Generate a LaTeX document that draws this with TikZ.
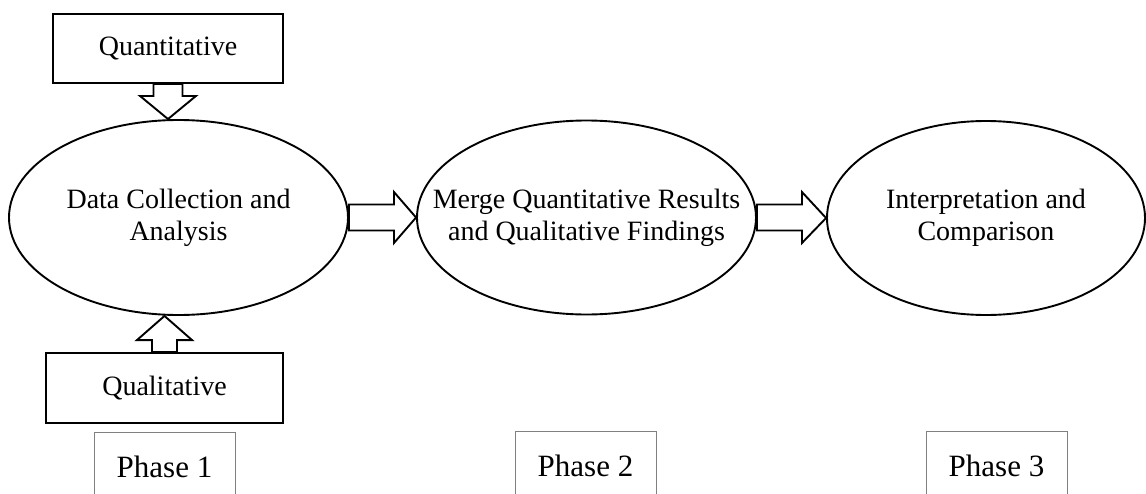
\documentclass[tikz,border=0pt]{standalone}
\usepackage{fontspec}
\setmainfont{Liberation Serif}
\usetikzlibrary{shapes.geometric,calc}
\tikzset{
  oval/.style={ellipse,draw=black,line width=1.9pt,inner sep=0pt},
  ovaltext/.style={align=center,inner sep=0pt,font=\fontsize{28}{32}\selectfont},
  inbox/.style={rectangle,draw=black,line width=1.9pt,inner sep=0pt,align=center,
    font=\fontsize{28}{32}\selectfont},
  phasebox/.style={rectangle,draw=black!50,line width=1pt,inner sep=0pt,anchor=north,
    minimum width=141pt,minimum height=69pt,text height=21pt,text depth=0pt,
    font=\fontsize{31}{34}\selectfont},
  barrow/.style={draw=black,fill=white,line width=1.9pt,line join=miter}
}
\begin{document}
\begin{tikzpicture}[x=1pt,y=-1pt]
\useasboundingbox (0,0) rectangle (1146,493);
\clip (0,0) rectangle (1146,493);
\node[oval,minimum width=339pt,minimum height=195pt,
  label={[ovaltext]center:Data Collection and\\Analysis}] (e1) at (178.5,217.5) {};
\node[oval,minimum width=339pt,minimum height=194pt,
  label={[ovaltext]center:Merge Quantitative Results\\and Qualitative Findings}] (e2) at (586.5,217.5) {};
\node[oval,minimum width=318pt,minimum height=194pt,
  label={[ovaltext]center:Interpretation and\\Comparison}] (e3) at (986,218) {};
\node[inbox,minimum width=230pt,minimum height=69pt] (qn) at (168,48.5) {Quantitative};
\node[inbox,minimum width=237pt,minimum height=70pt] (ql) at (164.5,388) {Qualitative};
\node[phasebox] (p1) at (164.5,432) {Phase 1};
\node[phasebox] (p2) at (585.5,431) {Phase 2};
\node[phasebox] (p3) at (996.5,431) {Phase 3};
% Quantitative -> e1
\draw[barrow] ($(qn.south)+(-14.5,0)$) -- ($(qn.south)+(-14.5,12)$) -- ($(qn.south)+(-28,12)$)
  -- (qn.south |- e1.north) -- ($(qn.south)+(28,12)$) -- ($(qn.south)+(14.5,12)$)
  -- ($(qn.south)+(14.5,0)$) -- cycle;
% Qualitative -> e1
\draw[barrow] ($(ql.north)+(-12.5,0)$) -- ($(ql.north)+(-12.5,-12)$) -- ($(ql.north)+(-27.5,-12)$)
  -- (ql.north |- e1.south) -- ($(ql.north)+(27.5,-12)$) -- ($(ql.north)+(12.5,-12)$)
  -- ($(ql.north)+(12.5,0)$) -- cycle;
% e1 -> e2
\draw[barrow] ($(e1.east)+(0,-13)$) -- ($(e1.east)+(45,-13)$) -- ($(e1.east)+(45,-25.5)$)
  -- (e2.west) -- ($(e1.east)+(45,25.5)$) -- ($(e1.east)+(45,13)$) -- ($(e1.east)+(0,13)$) -- cycle;
% e2 -> e3
\draw[barrow] ($(e2.east)+(0,-13)$) -- ($(e2.east)+(45,-13)$) -- ($(e2.east)+(45,-25.5)$)
  -- (e3.west) -- ($(e2.east)+(45,25.5)$) -- ($(e2.east)+(45,13)$) -- ($(e2.east)+(0,13)$) -- cycle;
\end{tikzpicture}
\end{document}
